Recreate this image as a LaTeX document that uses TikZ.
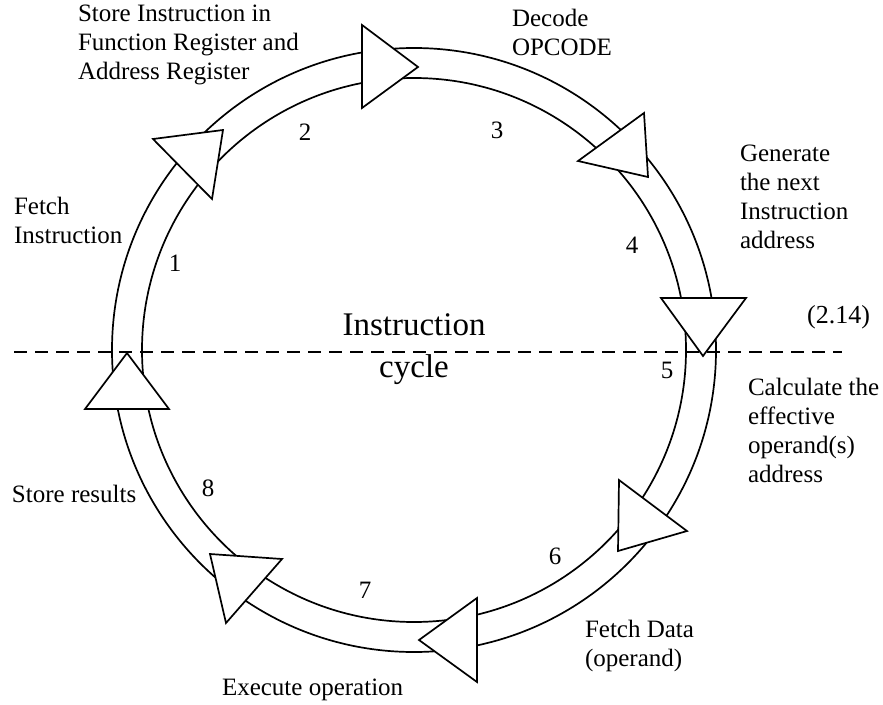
\documentclass[tikz,border=0pt]{standalone}
\usepackage{fontspec}
\setmainfont{Liberation Serif}
\usepackage{tikz}

\tikzset{
  ring/.style={draw=drawColor,line width=1.7pt},
  head/.style={draw=drawColor,fill=fillColor,line width=1.7pt,line join=miter},
  cutline/.style={draw=drawColor,line width=1.7pt,dash pattern=on 13pt off 8pt},
  lbl/.style={text=drawColor,anchor=base west,inner sep=0pt,outer sep=0pt,align=left,font=\fontsize{25}{29}\selectfont},
  num/.style={text=drawColor,inner sep=0pt,outer sep=0pt,font=\fontsize{25}{29}\selectfont},
  big/.style={text=drawColor,inner sep=0pt,outer sep=0pt,align=center,font=\fontsize{33}{42}\selectfont}
}

\begin{document}
\begin{tikzpicture}[x=1pt,y=-1pt]
\definecolor{fillColor}{RGB}{255,255,255}
\definecolor{drawColor}{RGB}{0,0,0}
\path[use as bounding box,fill=fillColor] (0,0) rectangle (883,704);

% the ring
\draw[ring] (414,350) circle[radius=302];
\draw[ring] (414,350) circle[radius=272];

% arrow heads, clockwise from the top
\draw[head] (362,25) -- (362,108) -- (418,67) -- cycle;
\draw[head] (578,161) -- (644,113) -- (648,177) -- cycle;
\draw[head] (661,298) -- (746,298) -- (703,356) -- cycle;
\draw[head] (619,480) -- (687,531) -- (618,551) -- cycle;
\draw[head] (477,598) -- (477,682) -- (419,640) -- cycle;
\draw[head] (282,559) -- (226,623) -- (210,554) -- cycle;
\draw[head] (85,409) -- (169,409) -- (127,353) -- cycle;
\draw[head] (153,139) -- (212,199) -- (223,130) -- cycle;

% steps
\node[num] (n1) at (175,263) {1};
\node[num] (n2) at (305,132) {2};
\node[num] (n3) at (497,130) {3};
\node[num] (n4) at (632,245) {4};
\node[num] (n5) at (667,370) {5};
\node[num] (n6) at (555,556) {6};
\node[num] (n7) at (365,590) {7};
\node[num] (n8) at (208,488) {8};

% labels (anchored on the last line)
\node[lbl] (store) at (78,79) {Store Instruction in\\Function Register and\\Address Register};
\node[lbl] (decode) at (512,55) {Decode\\OPCODE};
\node[lbl] (gener) at (740,248) {Generate\\the next\\Instruction\\address};
\node[lbl] (fetchi) at (14,243) {Fetch\\Instruction};
\node[lbl] (calc) at (748,482) {Calculate the\\effective\\operand(s)\\address};
\node[lbl] (storer) at (12,502) {Store results};
\node[lbl] (fetchd) at (585,666) {Fetch Data\\(operand)};
\node[lbl] (exec) at (222,695) {Execute operation};
\node[text=drawColor,anchor=base west,inner sep=0pt,font=\fontsize{26}{30}\selectfont] (eqno) at (807,323) {(2.14)};
\node[big] (cycle) at (414,349) {Instruction\\cycle};

\draw[cutline] (14,352) -- (842,352);
\end{tikzpicture}
\end{document}
